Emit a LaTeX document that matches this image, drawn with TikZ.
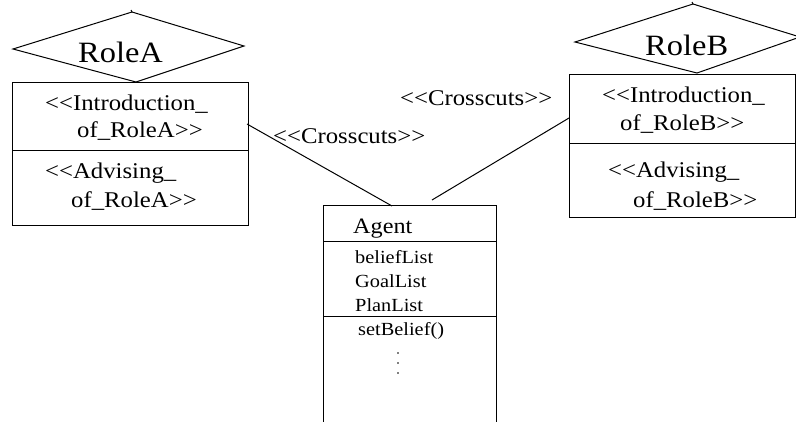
\documentclass[tikz,border=0pt]{standalone}
\usepackage{fontspec}
\setmainfont{Liberation Serif}[FakeStretch=1.1]
\newcommand{\LLt}{<\kern0pt<}
\newcommand{\GGt}{>\kern0pt>}
\begin{document}
\begin{tikzpicture}[x=1pt,y=-1pt,
  shape line/.style={draw=black,line width=1pt},
  conn/.style={draw=black,line width=1pt},
  boxtext/.style={anchor=base west,inner sep=0pt,font=\fontsize{22.5}{26}\selectfont},
  roletext/.style={anchor=base west,inner sep=0pt,font=\fontsize{29.5}{33}\selectfont},
  agenttext/.style={anchor=base west,inner sep=0pt,font=\fontsize{22}{26}\selectfont},
  listtext/.style={anchor=base west,inner sep=0pt,font=\fontsize{18.5}{22}\selectfont},
  labeltext/.style={anchor=base west,inner sep=0pt,font=\fontsize{22.5}{26}\selectfont}]
\useasboundingbox (0,0) rectangle (796,421);
\fill[white] (0,0) rectangle (796,421);

% Role A
\coordinate (dAl) at (13,49);
\coordinate (dAt) at (132,12);
\coordinate (dAr) at (244,46);
\coordinate (dAb) at (136,82);
\draw[shape line,line join=miter] (dAl) -- (dAt) -- (dAr) -- (dAb) -- cycle;
\draw[shape line] (dAt) -- ++(-1,-2);
\node[roletext] (roleA) at (78,62) {RoleA};
\draw[shape line] (12,82) rectangle (248,225);
\draw[shape line] (12,150) -- (248,150);
\coordinate (boxAr) at (247,124);
\node[boxtext] (introA1) at (45,110) {\LLt Introduction\_};
\node[boxtext] (introA2) at (77,137) {of\_RoleA\GGt};
\node[boxtext] (advA1) at (45,178) {\LLt Advising\_};
\node[boxtext] (advA2) at (71,207) {of\_RoleA\GGt};

% Role B
\coordinate (dBl) at (575,42);
\coordinate (dBt) at (693,4);
\coordinate (dBr) at (800,37);
\coordinate (dBb) at (697,73);
\draw[shape line,line join=miter] (dBl) -- (dBt) -- (dBr) -- (dBb) -- cycle;
\draw[shape line] (dBt) -- ++(-1,-2);
\node[roletext] (roleB) at (645,55) {RoleB};
\draw[shape line] (569,74) rectangle (795,217);
\draw[shape line] (569,143) -- (795,143);
\coordinate (boxBl) at (569,118);
\node[boxtext] (introB1) at (602,102) {\LLt Introduction\_};
\node[boxtext] (introB2) at (620,130) {of\_RoleB\GGt};
\node[boxtext] (advB1) at (608,177) {\LLt Advising\_};
\node[boxtext] (advB2) at (633,207) {of\_RoleB\GGt};

% Agent
\draw[shape line] (323,430) -- (323,205) -- (496,205) -- (496,430);
\draw[shape line] (323,241) -- (496,241);
\draw[shape line] (323,316) -- (496,316);
\node[agenttext] (agent) at (353,233) {Agent};
\node[listtext] (bl) at (355,263) {beliefList};
\node[listtext] (gl) at (355,287) {GoalList};
\node[listtext] (pl) at (355,311) {PlanList};
\node[listtext] (sb) at (358,335) {setBelief()};
\fill (398,353) circle (0.9);
\fill (398,363) circle (0.9);
\fill (398,373) circle (0.9);
\coordinate (agA) at (392,206);
\coordinate (agB) at (432,200);

% connectors
\draw[conn] (boxAr) -- (agA);
\draw[conn] (agB) -- (boxBl);
\node[labeltext] (cc1) at (273,143) {\LLt Crosscuts\GGt};
\node[labeltext] (cc2) at (400,105) {\LLt Crosscuts\GGt};
\end{tikzpicture}
\end{document}
